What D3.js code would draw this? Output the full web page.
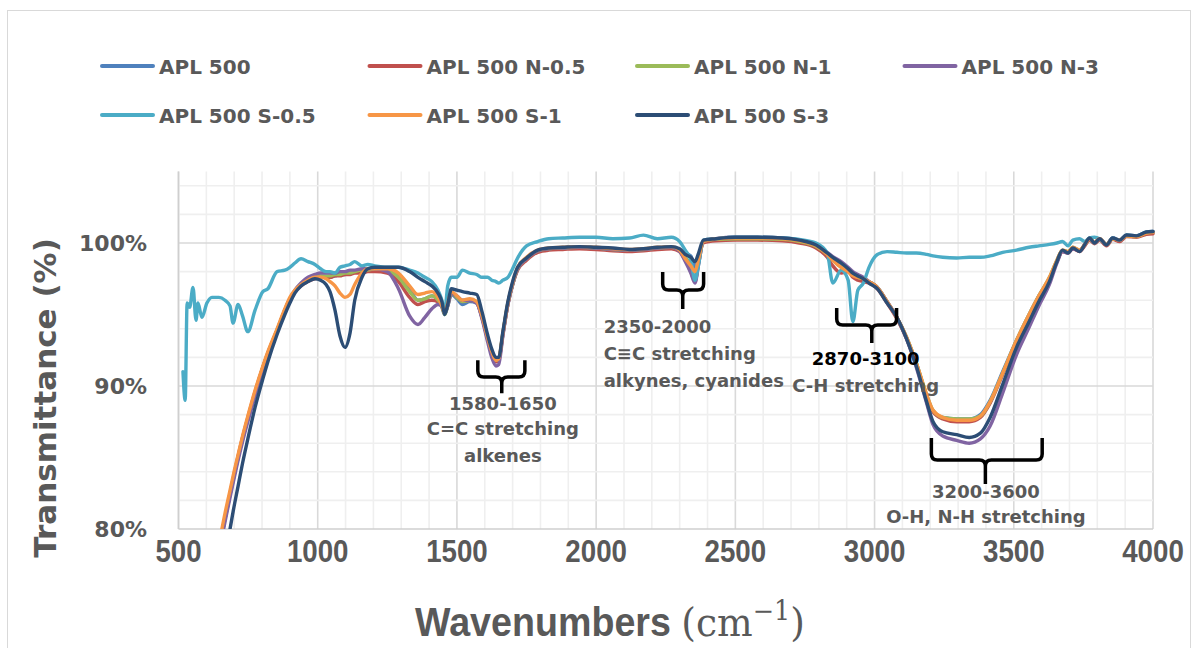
<!DOCTYPE html>
<html><head><meta charset="utf-8">
<script src="https://cdn.jsdelivr.net/npm/d3@7"></script>
<style>body{margin:0;background:#fff;} svg{display:block;}</style>
</head><body><svg id="chart" width="1198" height="648"></svg>
<script>
// ---------- DATA ----------
const wavenumbers = [
  516, 524, 531, 540, 552, 563, 570, 584, 602, 620,
  645, 667, 685, 696, 714, 730, 749, 775, 803, 821,
  854, 882, 900, 918, 940, 965, 990, 1010, 1030, 1044,
  1062, 1080, 1098, 1116, 1133, 1159, 1180, 1205, 1250, 1290,
  1330, 1360, 1385, 1410, 1432, 1446, 1456, 1467, 1480, 1500,
  1520, 1546, 1571, 1590, 1610, 1625, 1640, 1650, 1665, 1683,
  1700, 1718, 1750, 1790, 1830, 1880, 1940, 2000, 2060, 2120,
  2170, 2220, 2270, 2300, 2320, 2340, 2355, 2368, 2385, 2430,
  2500, 2580, 2670, 2730, 2790, 2830, 2850, 2880, 2905, 2922,
  2940, 2960, 2980, 3010, 3045, 3080, 3115, 3150, 3187, 3210,
  3245, 3295, 3340, 3380, 3415, 3460, 3510, 3555, 3590, 3628,
  3655, 3675, 3695, 3712, 3736, 3755, 3772, 3790, 3808, 3833,
  3855, 3880, 3905, 3940, 3976, 4000
];
const apl500 = [
  65.5, 66.3, 67, 67.9, 69.1, 70.2, 70.9, 72.3, 74.1, 75.9,
  78.5, 80.7, 82.4, 83.4, 85.0, 86.3, 87.7, 89.5, 91.3, 92.3,
  93.9, 95.3, 96.1, 96.6, 97.1, 97.4, 97.6, 97.6, 97.6, 97.6,
  97.7, 97.8, 97.8, 97.9, 98.0, 98.1, 98.1, 98.2, 98.1, 97.8,
  96.8, 96.0, 96.1, 96.3, 96.0, 95.5, 95.0, 95.6, 96.4, 96.1,
  95.7, 95.9, 95.8, 94.8, 93.3, 92.3, 91.7, 91.8, 93.6, 95.7,
  97.1, 98.2, 98.9, 99.45, 99.6, 99.65, 99.7, 99.65, 99.55, 99.5,
  99.55, 99.65, 99.7, 99.5, 99.3, 99.1, 98.3, 99.0, 100.1, 100.3,
  100.35, 100.35, 100.3, 100.15, 99.8, 99.25, 98.9, 98.4, 98.1, 97.8,
  97.6, 97.5, 97.3, 96.9, 95.9, 94.8, 93.4, 91.6, 89.3, 88.2,
  87.8, 87.7, 87.7, 88.0, 89.0, 91.0, 93.2, 95.0, 96.3, 97.5,
  98.7, 99.45, 99.35, 99.65, 99.45, 99.85, 100.3, 100.0, 100.25, 99.85,
  100.3, 100.15, 100.5, 100.45, 100.7, 100.75
];
const aplN05 = [
  65.8, 66.6, 67.3, 68.2, 69.4, 70.5, 71.2, 72.6, 74.4, 76.2,
  78.6, 80.8, 82.5, 83.5, 85.1, 86.4, 87.8, 89.6, 91.3, 92.3,
  93.9, 95.3, 96.1, 96.6, 97.0, 97.3, 97.5, 97.6, 97.6, 97.6,
  97.7, 97.7, 97.8, 97.8, 97.9, 97.9, 98.0, 98.0, 97.9, 97.3,
  96.2, 95.7, 95.9, 96.0, 95.9, 95.6, 95.1, 95.7, 96.5, 96.2,
  95.9, 96.0, 95.8, 94.8, 93.3, 92.3, 91.7, 91.8, 93.6, 95.7,
  97.1, 98.1, 98.8, 99.35, 99.5, 99.55, 99.6, 99.55, 99.45, 99.4,
  99.45, 99.55, 99.6, 99.4, 98.8, 98.0, 97.3, 98.6, 100.0, 100.15,
  100.2, 100.2, 100.15, 100.0, 99.65, 99.0, 98.4, 97.9, 98.0, 97.6,
  97.4, 97.3, 97.2, 96.8, 95.8, 94.7, 93.3, 91.5, 89.3, 88.2,
  87.7, 87.5, 87.5, 87.8, 88.8, 90.8, 93.1, 94.9, 96.2, 97.5,
  98.7, 99.4, 99.3, 99.6, 99.4, 99.8, 100.2, 99.95, 100.2, 99.8,
  100.25, 100.1, 100.45, 100.4, 100.6, 100.65
];
const aplN1 = [
  65.6, 66.4, 67.1, 68.0, 69.2, 70.3, 71.0, 72.4, 74.2, 76.0,
  78.5, 80.7, 82.4, 83.4, 85.0, 86.3, 87.7, 89.5, 91.3, 92.3,
  93.9, 95.3, 96.1, 96.6, 97.1, 97.4, 97.6, 97.7, 97.7, 97.7,
  97.8, 97.8, 97.9, 97.9, 98.0, 98.1, 98.1, 98.2, 98.1, 97.6,
  96.6, 96.0, 96.1, 96.3, 96.0, 95.6, 95.0, 95.6, 96.5, 96.2,
  95.9, 96.0, 95.9, 94.9, 93.4, 92.4, 91.8, 91.9, 93.7, 95.8,
  97.1, 98.2, 98.9, 99.45, 99.6, 99.65, 99.7, 99.65, 99.55, 99.5,
  99.55, 99.65, 99.7, 99.5, 99.0, 98.5, 98.0, 98.8, 100.1, 100.25,
  100.3, 100.3, 100.25, 100.1, 99.75, 99.2, 98.8, 98.3, 98.1, 97.8,
  97.6, 97.5, 97.3, 96.9, 95.9, 94.8, 93.4, 91.6, 89.4, 88.3,
  87.8, 87.7, 87.7, 87.9, 88.9, 90.9, 93.2, 95.0, 96.3, 97.6,
  98.8, 99.5, 99.4, 99.7, 99.5, 99.9, 100.3, 100.0, 100.3, 99.9,
  100.3, 100.2, 100.5, 100.45, 100.7, 100.75
];
const aplN3 = [
  65.2, 66, 66.7, 67.6, 68.8, 69.9, 70.6, 72.0, 73.8, 75.6,
  78.3, 80.5, 82.2, 83.2, 84.8, 86.1, 87.5, 89.3, 91.1, 92.1,
  93.8, 95.3, 96.1, 96.7, 97.2, 97.6, 97.8, 97.9, 97.9, 97.9,
  97.9, 98.0, 98.0, 98.1, 98.1, 98.2, 98.2, 98.2, 98.0, 96.8,
  94.9, 94.3, 94.8, 95.4, 95.7, 95.6, 95.1, 95.6, 96.5, 96.3,
  96.0, 96.0, 95.8, 94.7, 93.1, 92.0, 91.4, 91.5, 93.5, 95.7,
  97.1, 98.2, 98.9, 99.45, 99.6, 99.65, 99.7, 99.65, 99.55, 99.5,
  99.55, 99.65, 99.7, 99.4, 98.7, 97.9, 97.2, 98.5, 100.1, 100.3,
  100.4, 100.4, 100.35, 100.2, 99.9, 99.35, 99.05, 98.7, 98.3, 98.0,
  97.8, 97.6, 97.3, 96.9, 95.9, 94.8, 93.3, 91.3, 88.8, 87.3,
  86.5, 86.2, 86.0, 86.3, 87.2, 89.5, 92.2, 94.1, 95.6, 97.1,
  98.6, 99.4, 99.3, 99.6, 99.45, 99.9, 100.3, 100.0, 100.3, 99.9,
  100.35, 100.2, 100.55, 100.5, 100.75, 100.8
];
const aplS05 = [
  91.0, 89.0, 95.8, 95.5, 96.9, 94.6, 95.8, 94.8, 95.8, 96.2,
  96.2, 96.0, 95.6, 94.4, 95.7, 94.9, 93.8, 95.3, 96.6, 96.8,
  98.0, 98.1, 98.3, 98.6, 98.9, 98.7, 98.5, 98.2, 98.0, 98.0,
  97.9, 98.3, 98.4, 98.5, 98.7, 98.4, 98.5, 98.4, 98.3, 98.3,
  98.1, 97.9, 97.6, 97.3, 96.7, 96.0, 95.2, 97.0, 97.6, 97.6,
  98.1, 97.9, 97.8, 97.6, 97.6, 97.4, 97.3, 97.2, 97.4, 97.6,
  98.2, 98.95, 99.8, 100.1, 100.3, 100.35, 100.4, 100.4, 100.3, 100.35,
  100.55, 100.3, 100.4, 100.1, 99.5, 98.8, 97.4, 98.5, 100.2, 100.3,
  100.4, 100.4, 100.35, 100.25, 100.0, 99.3, 97.2, 98.1, 97.4, 94.5,
  96.7, 97.2, 98.3, 99.2, 99.4, 99.35, 99.3, 99.3, 99.2, 99.1,
  99.0, 98.95, 99.0, 99.0, 99.1, 99.35, 99.5, 99.7, 99.8, 99.9,
  100.0, 100.1, 99.8, 100.2, 100.3, 100.1, 100.35, 100.4, 100.3, 99.9,
  100.35, 100.2, 100.56, 100.5, 100.77, 100.8
];
const aplS1 = [
  66, 66.8, 67.5, 68.4, 69.6, 70.7, 71.4, 72.8, 74.6, 76.4,
  78.9, 81.1, 82.7, 83.7, 85.2, 86.5, 87.9, 89.7, 91.4, 92.4,
  94.0, 95.4, 96.2, 96.7, 97.1, 97.4, 97.6, 97.6, 97.5, 97.3,
  97.0, 96.5, 96.2, 96.4, 97.1, 97.9, 98.2, 98.2, 98.2, 97.9,
  97.0, 96.4, 96.5, 96.6, 96.2, 95.6, 95.1, 95.8, 96.6, 96.3,
  96.0, 96.1, 95.9, 94.9, 93.4, 92.4, 91.8, 91.9, 93.7, 95.8,
  97.2, 98.3, 99.0, 99.5, 99.65, 99.7, 99.75, 99.7, 99.6, 99.55,
  99.6, 99.7, 99.75, 99.5, 98.9, 98.4, 98.0, 98.9, 100.1, 100.3,
  100.35, 100.35, 100.3, 100.15, 99.8, 99.2, 98.8, 98.3, 98.0, 97.7,
  97.6, 97.5, 97.3, 96.9, 95.9, 94.8, 93.4, 91.6, 89.4, 88.3,
  87.8, 87.6, 87.6, 87.9, 88.9, 90.9, 93.2, 95.0, 96.3, 97.6,
  98.8, 99.5, 99.4, 99.7, 99.5, 99.9, 100.3, 100.05, 100.3, 99.9,
  100.3, 100.2, 100.5, 100.45, 100.7, 100.75
];
const aplS3 = [
  64, 64.8, 65.5, 66.4, 67.6, 68.7, 69.4, 70.8, 72.6, 74.4,
  76.6, 78.5, 80.0, 81.2, 83.0, 84.6, 86.3, 88.5, 90.5, 91.7,
  93.6, 95.0, 95.8, 96.5, 97.0, 97.3, 97.5, 97.4, 97.1, 96.6,
  95.3, 93.5, 92.7, 93.7, 96.0, 97.6, 98.2, 98.3, 98.3, 98.3,
  98.0, 97.6, 97.3, 97.0, 96.5, 95.9, 95.0, 95.7, 96.8, 96.7,
  96.6, 96.5, 96.4, 95.2, 93.6, 92.6, 92.0, 92.0, 93.8, 95.9,
  97.3, 98.3, 98.95, 99.5, 99.65, 99.7, 99.75, 99.7, 99.65, 99.55,
  99.6, 99.7, 99.75, 99.6, 99.2, 99.0, 98.7, 99.3, 100.2, 100.3,
  100.4, 100.4, 100.35, 100.2, 99.86, 99.3, 99.0, 98.6, 98.2, 97.9,
  97.7, 97.5, 97.2, 96.8, 95.8, 94.8, 93.3, 91.4, 88.9, 87.5,
  86.8, 86.6, 86.4, 86.7, 87.8, 90.1, 92.7, 94.5, 95.9, 97.3,
  98.7, 99.5, 99.3, 99.65, 99.4, 99.9, 100.35, 100.0, 100.3, 99.86,
  100.35, 100.2, 100.56, 100.5, 100.77, 100.8
];
const seriesNames = ["APL 500", "APL 500 N-0.5", "APL 500 N-1", "APL 500 N-3",
                     "APL 500 S-0.5", "APL 500 S-1", "APL 500 S-3"];
const seriesValues = [apl500, aplN05, aplN1, aplN3, aplS05, aplS1, aplS3];
const seriesColors = ["#4F81BD", "#C0504D", "#9BBB59", "#8064A2", "#4BACC6", "#F79646", "#2C4D75"];
const xTickValues = [500, 1000, 1500, 2000, 2500, 3000, 3500, 4000];
const yTickValues = [80, 90, 100];
const annotations = [
  {from: 1575, to: 1744, mid: 1661, top: 91.8, bar: 90.63, tip: 89.5,
   lines: ["1580-1650", "C=C stretching", "alkenes"], anchor: "middle", tx: 1665, ty: [88.32, 86.57, 84.69], first: "#595959"},
  {from: 2239, to: 2386, mid: 2311, top: 97.97, bar: 96.71, tip: 95.38,
   lines: ["2350-2000", "C≡C stretching", "alkynes, cyanides"], anchor: "start", tx: 2027, ty: [93.71, 91.82, 89.93], first: "#595959"},
  {from: 2864, to: 3079, mid: 2990, top: 95.45, bar: 94.27, tip: 93.0,
   lines: ["2870-3100", "C-H stretching"], anchor: "middle", tx: 2968, ty: [91.47, 89.58], first: "#000000"},
  {from: 3204, to: 3602, mid: 3398, top: 86.36, bar: 84.83, tip: 83.15,
   lines: ["3200-3600", "O-H, N-H stretching"], anchor: "middle", tx: 3400, ty: [82.17, 80.42], first: "#595959"}
];

// ---------- DRAW ----------
const svg = d3.select("#chart");
const x = d3.scaleLinear().domain([500, 4000]).range([178.5, 1153]);
const y = d3.scaleLinear().domain([80, 105]).range([529, 171.5]);
const TXT = "#595959";

svg.append("rect").attr("x", 7.5).attr("y", 10.5).attr("width", 1183).attr("height", 660)
  .attr("fill", "#fff").attr("stroke", "#D9D9D9");

const grid = svg.append("g");
grid.selectAll(".vmin").data(d3.range(500, 4001, 100)).join("line")
  .attr("x1", d => x(d)).attr("x2", d => x(d)).attr("y1", y(105)).attr("y2", y(80))
  .attr("stroke", d => d % 500 === 0 ? "#D9D9D9" : "#EFEFEF").attr("stroke-width", 1.6);
grid.selectAll(".hmin").data(d3.range(82, 105, 2)).join("line")
  .attr("x1", x(500)).attr("x2", x(4000)).attr("y1", d => y(d)).attr("y2", d => y(d))
  .attr("stroke", d => d % 10 === 0 ? "#D9D9D9" : "#EFEFEF").attr("stroke-width", 1.6);
svg.append("line").attr("x1", x(500)).attr("x2", x(500)).attr("y1", y(105)).attr("y2", y(80))
  .attr("stroke", "#CFCFCF").attr("stroke-width", 1.6);
svg.append("line").attr("x1", x(500)).attr("x2", x(4000)).attr("y1", y(80)).attr("y2", y(80))
  .attr("stroke", "#CFCFCF").attr("stroke-width", 1.6);

svg.append("defs").append("clipPath").attr("id", "plotclip").append("rect")
  .attr("x", x(500)).attr("y", y(105)).attr("width", x(4000) - x(500) + 3).attr("height", y(80) - y(105));

const line = d3.line().x((d, i) => x(wavenumbers[i])).y(d => y(d)).curve(d3.curveMonotoneX);
const lines = svg.append("g").attr("clip-path", "url(#plotclip)");
seriesValues.forEach((vals, k) => {
  lines.append("path").attr("d", line(vals)).attr("fill", "none")
    .attr("stroke", seriesColors[k]).attr("stroke-width", 3.4)
    .attr("stroke-linejoin", "round").attr("stroke-linecap", "round");
});

svg.selectAll(".ytl").data(yTickValues).join("text")
  .attr("x", 147).attr("y", d => y(d) + 8).attr("text-anchor", "end")
  .attr("font-family", "DejaVu Sans").attr("font-weight", "bold").attr("font-size", 22)
  .attr("fill", TXT).text(d => d + "%");

svg.selectAll(".xtl").data(xTickValues).join("text")
  .attr("x", d => x(d)).attr("y", 562).attr("text-anchor", "middle")
  .attr("font-family", "'Liberation Sans Narrow', 'Liberation Sans', sans-serif").attr("font-weight", "bold")
  .attr("font-size", 31).attr("fill", TXT)
  .attr("textLength", d => String(d).length * 15.4).attr("lengthAdjust", "spacingAndGlyphs")
  .text(d => d);

svg.append("text").attr("transform", "translate(45,398) rotate(-90)")
  .attr("text-anchor", "middle").attr("dominant-baseline", "central")
  .attr("font-family", "DejaVu Sans").attr("font-weight", "bold").attr("font-size", 31)
  .attr("fill", TXT).text("Transmittance (%)");

const xt = svg.append("text").attr("x", 610).attr("y", 636).attr("text-anchor", "middle")
  .attr("fill", TXT).attr("font-size", 40);
xt.append("tspan").attr("font-family", "'Liberation Sans Narrow', 'Liberation Sans', sans-serif")
  .attr("font-weight", "bold").text("Wavenumbers ");
xt.append("tspan").attr("font-family", "'DejaVu Serif', 'Liberation Serif', serif").text("(cm");
xt.append("tspan").attr("font-family", "'DejaVu Serif', 'Liberation Serif', serif")
  .attr("font-size", 27).attr("dy", -16).text("−1");
xt.append("tspan").attr("font-family", "'DejaVu Serif', 'Liberation Serif', serif")
  .attr("dy", 16).text(")");
(function fit(){
  const bb = xt.node().getBBox();
  const s = 390 / bb.width;
  const cx = 610;
  xt.attr("transform", `translate(${cx},0) scale(${s},1) translate(${-cx},0)`);
})();

const legend = svg.append("g");
seriesNames.forEach((name, k) => {
  const row = k < 4 ? 0 : 1;
  const col = k < 4 ? k : k - 4;
  const lx = 102 + col * 267.5;
  const ly = row === 0 ? 66 : 115;
  legend.append("line").attr("x1", lx).attr("x2", lx + 51).attr("y1", ly).attr("y2", ly)
    .attr("stroke", seriesColors[k]).attr("stroke-width", 4).attr("stroke-linecap", "round");
  legend.append("text").attr("x", lx + 57).attr("y", ly + 7.5)
    .attr("font-family", "DejaVu Sans").attr("font-weight", "bold").attr("font-size", 20)
    .attr("fill", TXT).text(name);
});

const ann = svg.append("g");
annotations.forEach(a => {
  const L = x(a.from), R = x(a.to), M = x(a.mid), T = y(a.top), B = y(a.bar), P = y(a.tip), r = 6;
  const d = `M${L},${T} L${L},${B - r} Q${L},${B} ${L + r},${B} L${M - r},${B} Q${M},${B} ${M},${B + r} L${M},${P}` +
            ` M${M},${B + r} Q${M},${B} ${M + r},${B} L${R - r},${B} Q${R},${B} ${R},${B - r} L${R},${T}`;
  ann.append("path").attr("d", d).attr("fill", "none").attr("stroke", "#000").attr("stroke-width", 3.5);
  a.lines.forEach((t, i) => {
    ann.append("text").attr("x", x(a.tx)).attr("y", y(a.ty[i])).attr("text-anchor", a.anchor)
      .attr("font-family", "DejaVu Sans").attr("font-weight", "bold").attr("font-size", 18)
      .attr("fill", i === 0 ? a.first : TXT).text(t);
  });
});
</script></body></html>
